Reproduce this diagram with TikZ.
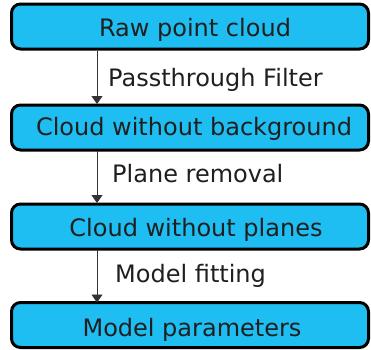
\documentclass[tikz,border=0pt]{standalone}
\usepackage{fontspec}
\setmainfont{DejaVu Sans}
\usetikzlibrary{arrows.meta}
\definecolor{boxfill}{RGB}{30,190,242}
\begin{document}
\begin{tikzpicture}[x=1pt,y=-1pt,
  stage/.style={draw=black, line width=3pt, fill=boxfill, rounded corners=9pt,
    minimum width=357pt, minimum height=45pt, inner sep=0pt},
  stagetext/.style={anchor=base, inner sep=0pt, font=\fontsize{24}{28}\selectfont, text=black!88},
  lbl/.style={anchor=base west, inner sep=0pt, font=\fontsize{24}{28}\selectfont, text=black!88},
  conn/.style={-{Triangle[width=11pt,length=8pt]}, line width=0.9pt, draw=black!80}]
\useasboundingbox (0,0) rectangle (371,349);
\node[stage] (a) at (190,26.5) {};
\node[stage] (b) at (190,127.5) {};
\node[stage] (c) at (190,226.5) {};
\node[stage] (d) at (190,325) {};
\node[stagetext] (ta) at (195,36.7) {Raw point cloud};
\node[stagetext] (tb) at (194,135) {Cloud without background};
\node[stagetext] (tc) at (196,236) {Cloud without planes};
\node[stagetext] (td) at (192,336.5) {Model parameters};
\coordinate (a1) at (97,51);
\coordinate (b0) at (97,104);
\coordinate (b1) at (97,151);
\coordinate (c0) at (97,203);
\coordinate (c1) at (97,250);
\coordinate (d0) at (97,302.5);
\draw[conn] (a1) -- (b0);
\draw[conn] (b1) -- (c0);
\draw[conn] (c1) -- (d0);
\node[lbl] (la) at (108,86) {Passthrough Filter};
\node[lbl] (lb) at (112,182) {Plane removal};
\node[lbl] (lc) at (115,282.5) {Model fitting};
\end{tikzpicture}
\end{document}
